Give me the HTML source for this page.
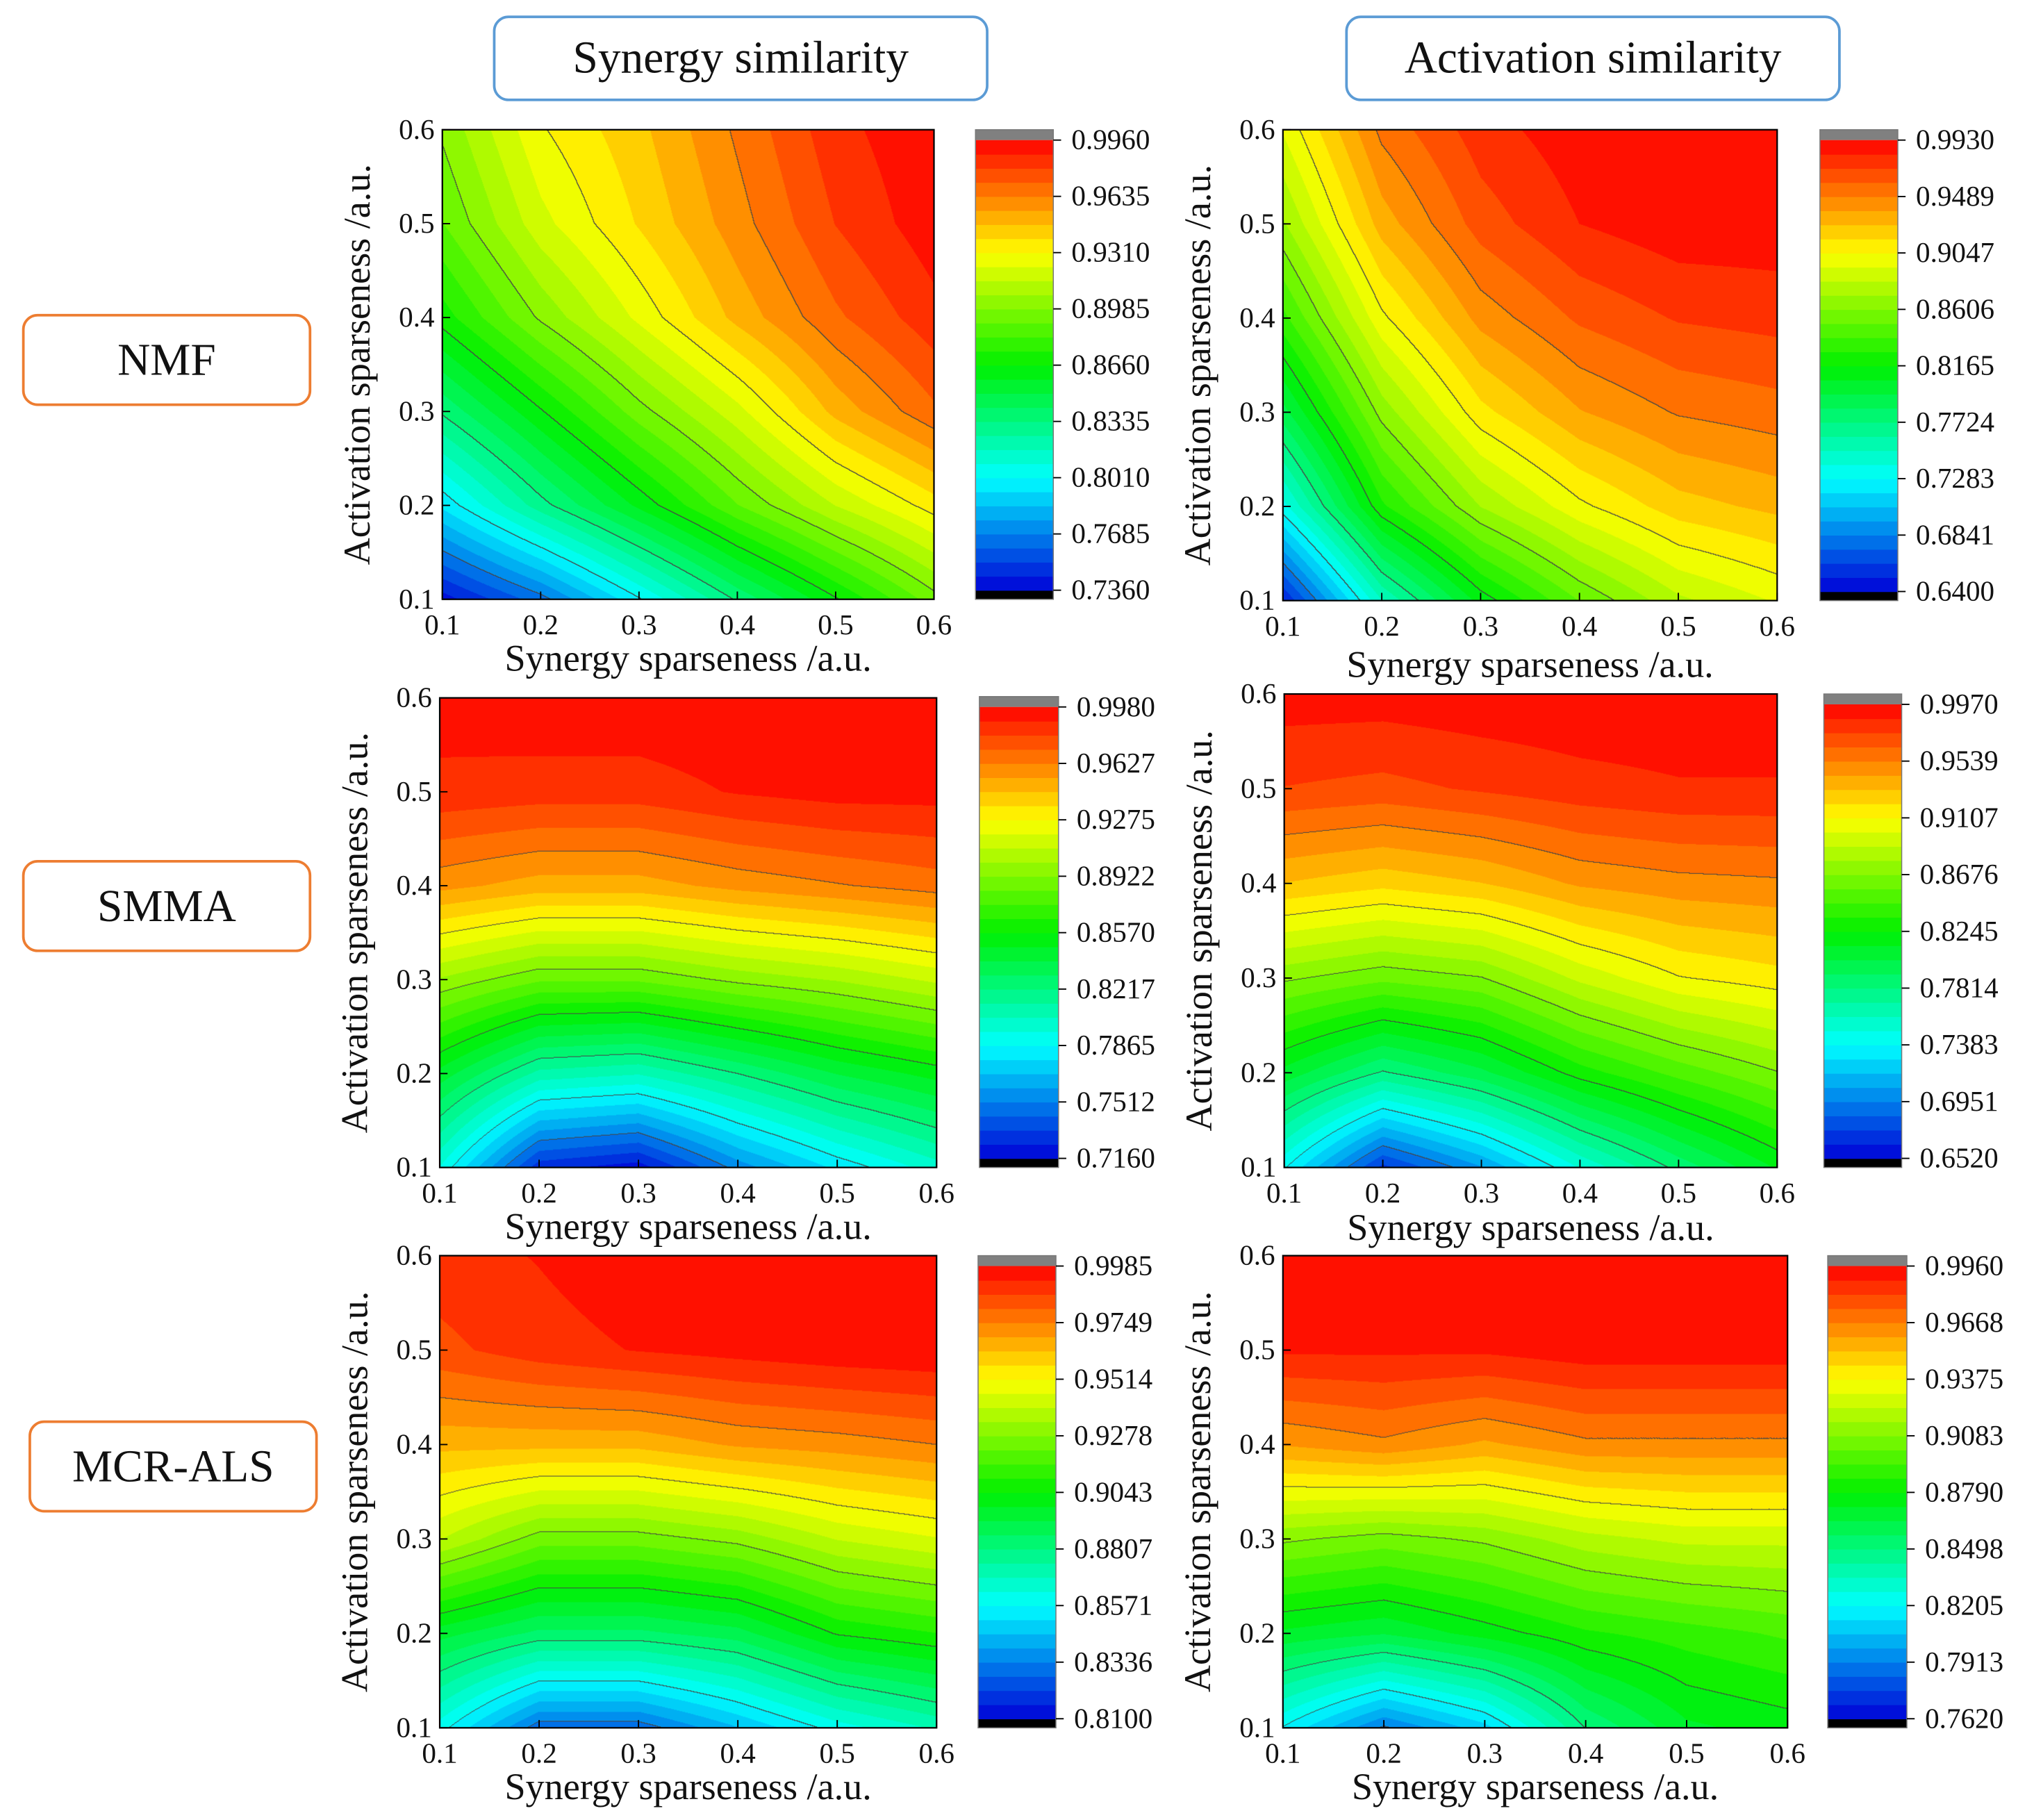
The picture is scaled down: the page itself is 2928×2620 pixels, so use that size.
<!DOCTYPE html>
<html><head><meta charset="utf-8">
<style>
html,body{margin:0;padding:0;background:#fff;}
body{width:2928px;height:2619px;overflow:hidden;position:relative;}
#root{position:absolute;left:0;top:0;width:1568px;height:1403px;transform:scale(1.86735);transform-origin:0 0;font-family:"Liberation Serif",serif;}
.box{position:absolute;border:2px solid;border-radius:12px;box-sizing:border-box;display:flex;align-items:center;justify-content:center;font-size:35px;color:#111;background:#fff;}
.blue{border-color:#5b9bd5;}
.orange{border-color:#ed7d31;}
canvas{position:absolute;}
svg{position:absolute;left:0;top:0;}
</style></head>
<body>
<div id="root">
<div class="box blue" style="left:380px;top:12px;width:382px;height:66px;">Synergy similarity</div>
<div class="box blue" style="left:1037px;top:12px;width:382px;height:66px;">Activation similarity</div>
<div class="box orange" style="left:17px;top:242px;width:223px;height:71px;">NMF</div>
<div class="box orange" style="left:17px;top:663px;width:223px;height:71px;">SMMA</div>
<div class="box orange" style="left:22px;top:1095px;width:223px;height:71px;">MCR-ALS</div>
<svg id="ov" width="1568" height="1403"></svg>
</div>
<script>
// axis ticks (shared)
const axisTicks = [0.1, 0.2, 0.3, 0.4, 0.5, 0.6];
// data grids: rows = activation sparseness 0.1..0.6, cols = synergy sparseness 0.1..0.6
const nmfSynergyZ = [
 [0.74,0.765,0.80,0.835,0.865,0.895],
 [0.795,0.83,0.86,0.89,0.915,0.935],
 [0.835,0.865,0.895,0.92,0.95,0.97],
 [0.87,0.90,0.925,0.95,0.97,0.985],
 [0.89,0.92,0.94,0.96,0.98,0.993],
 [0.90,0.93,0.945,0.965,0.985,0.995]];
const nmfActivationZ = [
 [0.65,0.75,0.81,0.85,0.88,0.895],
 [0.735,0.825,0.872,0.902,0.922,0.93],
 [0.79,0.865,0.912,0.937,0.95,0.955],
 [0.835,0.902,0.942,0.962,0.972,0.975],
 [0.87,0.932,0.965,0.982,0.989,0.989],
 [0.895,0.952,0.977,0.989,0.992,0.992]];
const smmaSynergyZ = [
 [0.795,0.728,0.72,0.755,0.78,0.80],
 [0.845,0.81,0.805,0.822,0.84,0.852],
 [0.90,0.885,0.885,0.895,0.902,0.912],
 [0.957,0.95,0.95,0.957,0.962,0.967],
 [0.987,0.985,0.985,0.99,0.993,0.993],
 [0.993,0.996,0.996,0.997,0.997,0.997]];
const smmaActivationZ = [
 [0.74,0.67,0.705,0.75,0.785,0.815],
 [0.81,0.78,0.80,0.83,0.85,0.867],
 [0.87,0.86,0.867,0.892,0.91,0.917],
 [0.932,0.925,0.932,0.945,0.95,0.952],
 [0.975,0.972,0.977,0.982,0.985,0.985],
 [0.992,0.992,0.994,0.995,0.995,0.995]];
const mcrSynergyZ = [
 [0.86,0.83,0.83,0.845,0.86,0.87],
 [0.895,0.885,0.885,0.89,0.905,0.91],
 [0.94,0.925,0.925,0.93,0.94,0.945],
 [0.965,0.965,0.965,0.97,0.972,0.975],
 [0.985,0.99,0.993,0.995,0.997,0.998],
 [0.99,0.993,0.997,0.998,0.998,0.998]];
const mcrActivationZ = [
 [0.82,0.79,0.81,0.85,0.87,0.875],
 [0.87,0.865,0.875,0.885,0.89,0.895],
 [0.91,0.905,0.91,0.92,0.925,0.925],
 [0.96,0.965,0.958,0.965,0.965,0.965],
 [0.99,0.99,0.99,0.993,0.993,0.993],
 [0.995,0.995,0.996,0.996,0.996,0.996]];
// colorbar tick labels
const nmfSynLabels = ["0.9960","0.9635","0.9310","0.8985","0.8660","0.8335","0.8010","0.7685","0.7360"];
const nmfActLabels = ["0.9930","0.9489","0.9047","0.8606","0.8165","0.7724","0.7283","0.6841","0.6400"];
const smmaSynLabels = ["0.9980","0.9627","0.9275","0.8922","0.8570","0.8217","0.7865","0.7512","0.7160"];
const smmaActLabels = ["0.9970","0.9539","0.9107","0.8676","0.8245","0.7814","0.7383","0.6951","0.6520"];
const mcrSynLabels = ["0.9985","0.9749","0.9514","0.9278","0.9043","0.8807","0.8571","0.8336","0.8100"];
const mcrActLabels = ["0.9960","0.9668","0.9375","0.9083","0.8790","0.8498","0.8205","0.7913","0.7620"];

const S = 1.86735, NL = 32;
const panels = [
 {name:'nmf-synergy',z:nmfSynergyZ,lab:nmfSynLabels,px:[341,100,720,462],cb:[752,100,812,462],xt:508},
 {name:'nmf-activation',z:nmfActivationZ,lab:nmfActLabels,px:[989,100,1370,463],cb:[1403,100,1463,463],xt:513},
 {name:'smma-synergy',z:smmaSynergyZ,lab:smmaSynLabels,px:[339,538,722,900],cb:[755,537,816,900],xt:946},
 {name:'smma-activation',z:smmaActivationZ,lab:smmaActLabels,px:[990,535,1370,900],cb:[1406,535,1466,900],xt:947},
 {name:'mcr-synergy',z:mcrSynergyZ,lab:mcrSynLabels,px:[339,968,722,1332],cb:[754,968,814,1332],xt:1378},
 {name:'mcr-activation',z:mcrActivationZ,lab:mcrActLabels,px:[989,968,1378,1332],cb:[1409,968,1470,1332],xt:1378}
];
function jet(t){
 t=Math.max(0,Math.min(1,t));
 const st=[[0,0,0,215],[0.25,0,255,255],[0.5,0,240,0],[0.75,255,255,0],[1,255,0,0]];
 for(let i=1;i<st.length;i++){ if(t<=st[i][0]){const a=st[i-1],b=st[i],f=(t-a[0])/(b[0]-a[0]);
   return [a[1]+(b[1]-a[1])*f,a[2]+(b[2]-a[2])*f,a[3]+(b[3]-a[3])*f];}}
 return [255,0,0];
}
const root=document.getElementById('root'), ov=document.getElementById('ov'), NS='http://www.w3.org/2000/svg';
function sv(tag,attrs,name,parent){const e=document.createElementNS(NS,tag);for(const k in attrs)e.setAttribute(k,attrs[k]);
 
 
 (parent||ov).appendChild(e);return e;}
panels.forEach(p=>{
 const [x0,y0,x1,y1]=p.px, W=x1-x0, H=y1-y0;
 const lmin=parseFloat(p.lab[8]), lmax=parseFloat(p.lab[0]);
 const xs=v=>x0+(v-0.1)/0.5*W, ys=v=>y1-(v-0.1)/0.5*H;
 const cw=Math.round(W*S), ch=Math.round(H*S);
 const c=document.createElement('canvas'); c.width=cw; c.height=ch;
 c.style.left=x0+'px'; c.style.top=y0+'px'; c.style.width=W+'px'; c.style.height=H+'px';
 
 
 root.insertBefore(c,ov);
 const ctx=c.getContext('2d'), img=ctx.createImageData(cw,ch);
 const lev=new Int16Array(cw*ch), lin=new Int16Array(cw*ch);
 for(let py=0;py<ch;py++){
  const gy=(1-(py+0.5)/ch)*5, j=Math.min(4,Math.floor(gy)), fy=gy-j;
  for(let qx=0;qx<cw;qx++){
   const gx=(qx+0.5)/cw*5, i=Math.min(4,Math.floor(gx)), fx=gx-i;
   const z=p.z[j][i]*(1-fx)*(1-fy)+p.z[j][i+1]*fx*(1-fy)+p.z[j+1][i]*(1-fx)*fy+p.z[j+1][i+1]*fx*fy;
   let t=(z-lmin)/(lmax-lmin); t=Math.max(0,Math.min(0.9999,t));
   const k=py*cw+qx; lev[k]=Math.min(NL-1,Math.floor(t*NL)); lin[k]=Math.floor(t*8);
  }
 }
 for(let k=0;k<cw*ch;k++){
  const col=jet((lev[k]+0.5)/NL); let r=col[0],g=col[1],b=col[2];
  const qx=k%cw;
  if((qx<cw-1&&lin[k]!==lin[k+1])||(k+cw<cw*ch&&lin[k]!==lin[k+cw])){r=70;g=70;b=70;}
  img.data[k*4]=r;img.data[k*4+1]=g;img.data[k*4+2]=b;img.data[k*4+3]=255;
 }
 ctx.putImageData(img,0,0);
 const g=sv('g',{},p.name+'-axes');
 sv('rect',{x:x0,y:y0,width:W,height:H,fill:'none',stroke:'#000','stroke-width':1.2},p.name+'-plot-frame',g);
 axisTicks.forEach(v=>{
  sv('line',{x1:xs(v),y1:y1,x2:xs(v),y2:y1-6,stroke:'#000','stroke-width':1},'x-tick',g);
  sv('line',{x1:x0,y1:ys(v),x2:x0+6,y2:ys(v),stroke:'#000','stroke-width':1},'y-tick',g);
  const tx=sv('text',{x:xs(v),y:y1+27,'text-anchor':'middle','font-size':22,fill:'#111'},'x-tick-label',g); tx.textContent=v.toFixed(1);
  const ty=sv('text',{x:x0-6,y:ys(v)+7,'text-anchor':'end','font-size':22,fill:'#111'},'y-tick-label',g); ty.textContent=v.toFixed(1);
 });
 const xt=sv('text',{x:(x0+x1)/2,y:p.xt+9,'text-anchor':'middle','font-size':29,fill:'#111'},'x-axis-title',g); xt.textContent='Synergy sparseness /a.u.';
 const yt=sv('text',{x:0,y:0,'text-anchor':'middle','font-size':29,fill:'#111',transform:`translate(${x0-56},${(y0+y1)/2}) rotate(-90)`},'y-axis-title',g); yt.textContent='Activation sparseness /a.u.';
 const [c0,cy0,c1,cy1]=p.cb, top=cy0+8, bot=cy1-7, bh=(bot-top)/NL;
 const cg=sv('g',{},p.name+'-colorbar');
 sv('rect',{x:c0,y:cy0,width:c1-c0,height:8,fill:'#808080'},'colorbar-over',cg);
 sv('rect',{x:c0,y:bot,width:c1-c0,height:7,fill:'#000'},'colorbar-under',cg);
 for(let k=0;k<NL;k++){const col=jet((k+0.5)/NL);
  sv('rect',{x:c0,y:bot-(k+1)*bh,width:c1-c0,height:bh+0.4,fill:`rgb(${col.map(Math.round).join(',')})`},'colorbar-step',cg);}
 sv('rect',{x:c0,y:cy0,width:c1-c0,height:cy1-cy0,fill:'none',stroke:'#777','stroke-width':0.8},'colorbar-frame',cg);
 p.lab.forEach((l,i)=>{const y=top+(bot-top)*i/8;
  sv('line',{x1:c1,y1:y,x2:c1+6,y2:y,stroke:'#000','stroke-width':1},'colorbar-tick',cg);
  const t=sv('text',{x:c1+14,y:y+7,'font-size':22,fill:'#111'},'colorbar-label',cg); t.textContent=l;});
});
</script>
</body></html>
